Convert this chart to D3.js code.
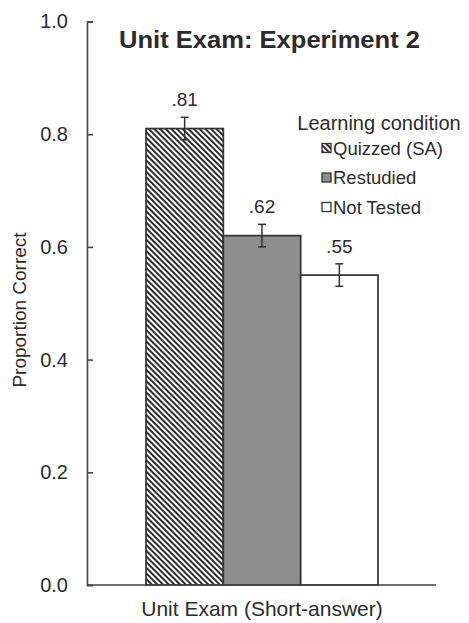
<!DOCTYPE html>
<html lang="en">
<head>
	<meta charset="utf-8">
	<title>Unit Exam: Experiment 2</title>
	<script src="https://cdn.jsdelivr.net/npm/d3@7"></script>
	<style>
		body { margin: 0; background: #fff; }
		text { font-family: "Liberation Sans", Arial, Helvetica, sans-serif; fill: #2b2b2b; }
	</style>
</head>
<body>
	<div id="chart"></div>
	<script>
	// data
	var conditions = ["Quizzed (SA)", "Restudied", "Not Tested"];
	var values = [0.81, 0.62, 0.55];
	var errors = [0.02, 0.02, 0.02];
	var valueLabels = [".81", ".62", ".55"];
	var yTicks = [0.0, 0.2, 0.4, 0.6, 0.8, 1.0];
	var fills = ["url(#hatch)", "#8e8e90", "#ffffff"];

	var W = 469, H = 623;
	var svg = d3.select("#chart").append("svg")
		.attr("width", W)
		.attr("height", H);

	// diagonal hatch, top-left to bottom-right
	var defs = svg.append("defs");
	var pat = defs.append("pattern")
		.attr("id", "hatch")
		.attr("patternUnits", "userSpaceOnUse")
		.attr("width", 4)
		.attr("height", 4)
		.attr("patternTransform", "rotate(45)");
	pat.append("rect").attr("width", 4).attr("height", 4).attr("fill", "#fff");
	pat.append("line")
		.attr("x1", 0).attr("y1", 2).attr("x2", 4).attr("y2", 2)
		.attr("stroke", "#222").attr("stroke-width", 1.9);

	var y = d3.scaleLinear().domain([0, 1]).range([585, 21.5]);
	var x = d3.scaleBand().domain(conditions).range([146, 378]).padding(0);

	// y axis, ticks pointing in
	var yAxis = d3.axisLeft(y).tickValues(yTicks).tickFormat(d3.format(".1f")).tickSize(-6).tickPadding(19);
	var gy = svg.append("g").attr("transform", "translate(87,0)").call(yAxis);
	gy.select(".domain").attr("stroke", "#444").attr("stroke-width", 1.6);
	gy.selectAll(".tick line").attr("stroke", "#444").attr("stroke-width", 1.6);
	gy.selectAll(".tick text").attr("font-size", 20).attr("fill", "#2b2b2b")
		.attr("font-family", "Liberation Sans, Arial, sans-serif");

	// bars
	svg.selectAll(".bar").data(conditions).enter().append("rect")
		.attr("class", "bar")
		.attr("x", function(d) { return x(d); })
		.attr("width", x.bandwidth())
		.attr("y", function(d, i) { return y(values[i]); })
		.attr("height", function(d, i) { return y(0) - y(values[i]); })
		.attr("fill", function(d, i) { return fills[i]; })
		.attr("stroke", "#333")
		.attr("stroke-width", 1.7);

	// x axis line
	svg.append("line")
		.attr("x1", 87).attr("x2", 436)
		.attr("y1", y(0)).attr("y2", y(0))
		.attr("stroke", "#444").attr("stroke-width", 1.6);

	// error bars
	var eb = svg.selectAll(".err").data(conditions).enter().append("g").attr("class", "err");
	eb.append("line")
		.attr("x1", function(d) { return x(d) + x.bandwidth() / 2; })
		.attr("x2", function(d) { return x(d) + x.bandwidth() / 2; })
		.attr("y1", function(d, i) { return y(values[i] - errors[i]); })
		.attr("y2", function(d, i) { return y(values[i] + errors[i]); });
	[-1, 1].forEach(function(s) {
		eb.append("line")
			.attr("x1", function(d) { return x(d) + x.bandwidth() / 2 - 4; })
			.attr("x2", function(d) { return x(d) + x.bandwidth() / 2 + 4; })
			.attr("y1", function(d, i) { return y(values[i] + s * errors[i]); })
			.attr("y2", function(d, i) { return y(values[i] + s * errors[i]); });
	});
	eb.selectAll("line").attr("stroke", "#333").attr("stroke-width", 1.5);

	// value labels
	svg.selectAll(".vlab").data(conditions).enter().append("text")
		.attr("x", function(d) { return x(d) + x.bandwidth() / 2; })
		.attr("y", function(d, i) { return y(values[i] + errors[i]) - 11; })
		.attr("text-anchor", "middle")
		.attr("font-size", 19)
		.text(function(d, i) { return valueLabels[i]; });

	// title
	svg.append("text")
		.attr("x", 119).attr("y", 48)
		.attr("font-size", 23)
		.attr("font-weight", "bold")
		.attr("textLength", 301)
		.attr("lengthAdjust", "spacingAndGlyphs")
		.text("Unit Exam: Experiment 2");

	// axis titles
	svg.append("text")
		.attr("transform", "translate(26,310) rotate(-90)")
		.attr("text-anchor", "middle")
		.attr("font-size", 19)
		.text("Proportion Correct");
	svg.append("text")
		.attr("x", 262).attr("y", 616)
		.attr("text-anchor", "middle")
		.attr("font-size", 21)
		.text("Unit Exam (Short-answer)");

	// legend
	svg.append("text")
		.attr("x", 379).attr("y", 130)
		.attr("text-anchor", "middle")
		.attr("font-size", 20)
		.text("Learning condition");
	var leg = svg.selectAll(".leg").data(conditions).enter().append("g")
		.attr("class", "leg")
		.attr("transform", function(d, i) { return "translate(322," + (148 + i * 29.5) + ")"; });
	leg.append("rect")
		.attr("x", 0).attr("y", -4.5)
		.attr("width", 9).attr("height", 9)
		.attr("fill", function(d, i) { return fills[i]; })
		.attr("stroke", "#333").attr("stroke-width", 1.3);
	leg.append("text")
		.attr("x", 11).attr("y", 6.5)
		.attr("font-size", 18.5)
		.text(function(d) { return d; });
	</script>
</body>
</html>
